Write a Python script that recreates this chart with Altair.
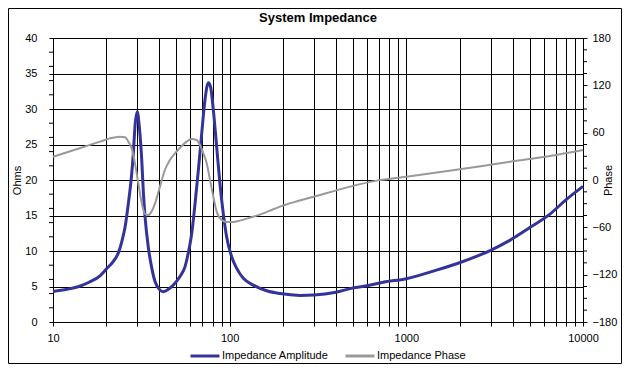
import altair as alt
import pandas as pd

# Impedance amplitude (Ohms) vs frequency (Hz)
amp_freq = [10, 12, 14, 16, 18.45, 20.1, 21.9, 23.4, 24.5, 25.6, 26.7, 27.9, 28.5, 29.1, 30.0,
            30.8, 31.8, 32.5, 33.2, 34.6, 36.1, 37.8, 40.3, 42.1, 45.0, 48.0, 52.3, 55.9, 58.3,
            61.0, 63.7, 66.5, 69.5, 72.5, 75.7, 78.0, 80.8, 84.4, 88.1, 92.0, 96.1, 102.6,
            109.6, 119.5, 136, 162, 193, 250, 300, 400, 480, 600, 740, 1000, 1480, 2000,
            3000, 3850, 5000, 6500, 8000, 10000]
amp_ohm = [4.3, 4.6, 5.0, 5.6, 6.5, 7.5, 8.5, 9.7, 11.3, 13.4, 16.7, 20.9, 23.8, 27.5, 29.6,
           27.5, 22.8, 18.1, 14.8, 10.6, 7.8, 5.7, 4.5, 4.27, 4.6, 5.2, 6.4, 7.8, 9.7,
           12.5, 16.7, 21.4, 26.6, 31.3, 33.7, 33.1, 29.9, 24.7, 19.5, 15.3, 12.0, 9.2,
           7.56, 6.15, 5.2, 4.4, 4.0, 3.75, 3.8, 4.2, 4.7, 5.1, 5.6, 6.1, 7.3, 8.35,
           10.1, 11.5, 13.3, 15.2, 17.2, 19.1]

# Impedance phase (degrees) vs frequency (Hz)
ph_freq = [10, 14, 18.45, 21.0, 23.9, 25.6, 26.7, 27.9, 29.1, 30.4, 31.8, 33.2, 34.6, 36.1,
           37.8, 40.3, 43.0, 45.9, 49.0, 53.5, 57.1, 61.0, 65.0, 67.9, 71.0, 74.1, 77.4,
           80.8, 84.4, 90.1, 96.1, 104.8, 114.3, 130.3, 148.4, 169.1, 192.6, 310, 480, 680,
           1000, 2010, 3855, 6500, 10000]
ph_deg = [29.5, 40.0, 48.6, 52.8, 54.9, 54.1, 48.6, 40.1, 21.1, -4.2, -29.6, -43.1, -44.4, -40.1,
          -29.6, -8.4, 12.7, 25.3, 33.8, 43.1, 48.6, 52.0, 50.7, 44.4, 33.8, 21.1, 0.0,
          -21.1, -40.1, -50.7, -53.2, -53.2, -51.5, -47.7, -43.9, -38.8, -33.8, -20.3, -8.4, -0.8,
          4.2, 13.5, 23.2, 30.4, 38.0]

x_ticks = [10, 20, 30, 40, 50, 60, 70, 80, 90, 100, 200, 300, 400, 500, 600, 700, 800, 900,
           1000, 2000, 3000, 4000, 5000, 6000, 7000, 8000, 9000, 10000]
left_major = [0, 5, 10, 15, 20, 25, 30, 35, 40]
left_minor = [2, 4, 6, 8, 12, 14, 16, 18, 22, 24, 26, 28, 32, 34, 36, 38]
right_major = [-180, -120, -60, 0, 60, 120, 180]
right_minor = [-165, -150, -135, -105, -90, -75, -45, -30, -15, 15, 30, 45, 75, 90, 105, 135, 150, 165]

series_names = ["Impedance Amplitude", "Impedance Phase"]
series_colors = ["#333399", "#999999"]

amp_df = pd.DataFrame({"freq": amp_freq, "ohm": amp_ohm})
ph_df = pd.DataFrame({"freq": ph_freq, "phase": ph_deg})
lminor_df = pd.DataFrame({"ohm": left_minor})
rminor_df = pd.DataFrame({"phase": right_minor})

W, H = 530, 284
FONT = "Liberation Sans"

xscale = alt.Scale(type="log", domain=[10, 10000], nice=False)
xaxis = alt.Axis(values=x_ticks, grid=True, gridColor="black", gridOpacity=1, gridWidth=1,
                 tickSize=4, tickColor="black", domainColor="black", labelFontSize=11,
                 labelColor="black", labelPadding=6, labelOverlap=False, labelFlush=False,
                 labelExpr="(datum.value == 10 || datum.value == 100 || datum.value == 1000 || datum.value == 10000) ? format(datum.value, 'd') : ''",
                 title=None)

lscale = alt.Scale(domain=[0, 40], nice=False, zero=False)
rscale = alt.Scale(domain=[-180, 180], nice=False, zero=False)

color = alt.Color("s:N", scale=alt.Scale(domain=series_names, range=series_colors),
                  legend=alt.Legend(title=None, orient="none", legendX=136, legendY=302,
                                    direction="horizontal", symbolType="stroke",
                                    symbolSize=841, symbolStrokeWidth=3, labelFontSize=11,
                                    labelColor="black", labelOffset=1, columnPadding=10,
                                    padding=0))

amp = alt.Chart(amp_df).transform_calculate(s="'Impedance Amplitude'").mark_line(
    strokeWidth=3, interpolate="monotone").encode(
    x=alt.X("freq:Q", scale=xscale, axis=xaxis),
    y=alt.Y("ohm:Q", scale=lscale,
            axis=alt.Axis(orient="left", values=left_major, grid=True, gridColor="black",
                          gridOpacity=1, tickSize=4, tickColor="black", domainColor="black",
                          labelFontSize=11, labelColor="black", labelPadding=12,
                          title="Ohms", titleFontSize=11, titleFontWeight="normal",
                          titleColor="black", titleX=-36, titleY=H / 2, titleAngle=270,
                          titleBaseline="middle", titleAlign="center")),
    color=color,
)
lminor = alt.Chart(lminor_df).mark_rule(color="black", strokeWidth=1).encode(
    y=alt.Y("ohm:Q", scale=lscale, axis=None),
    x=alt.value(-4), x2=alt.value(0),
)

ph = alt.Chart(ph_df).transform_calculate(s="'Impedance Phase'").mark_line(
    strokeWidth=2, interpolate="monotone").encode(
    x=alt.X("freq:Q", scale=xscale, axis=xaxis),
    y=alt.Y("phase:Q", scale=rscale,
            axis=alt.Axis(orient="right", values=right_major, grid=False, tickSize=4,
                          tickColor="black", domainColor="black", labelFontSize=11,
                          labelColor="black", labelPadding=5,
                          title="Phase", titleFontSize=11, titleFontWeight="normal",
                          titleColor="black", titleX=25, titleY=H / 2, titleAngle=270,
                          titleBaseline="middle", titleAlign="center")),
    color=color,
)
rminor = alt.Chart(rminor_df).mark_rule(color="black", strokeWidth=1).encode(
    y=alt.Y("phase:Q", scale=rscale, axis=None),
    x=alt.value(W), x2=alt.value(W + 4),
)

border = alt.Chart(alt.Data(values=[{"a": 1}])).mark_rect(
    fill=None, fillOpacity=0, stroke="black", strokeWidth=1).encode(
    x=alt.value(-44.5), x2=alt.value(568.5), y=alt.value(-29.5), y2=alt.value(325.5),
)

chart = alt.layer(amp, ph, lminor, rminor, border).resolve_scale(y="independent").properties(
    width=W, height=H,
    autosize=alt.AutoSizeParams(type="none"),
    padding={"left": 45, "top": 30, "right": 39, "bottom": 42},
    background="white",
    title=alt.Title("System Impedance", fontSize=13, fontWeight="bold", font=FONT,
                    anchor="middle", offset=-27, baseline="alphabetic", color="black"),
).configure(font=FONT).configure_view(stroke="black", strokeWidth=1)

chart.save("out.html", embed_options={"renderer": "svg", "actions": False})
